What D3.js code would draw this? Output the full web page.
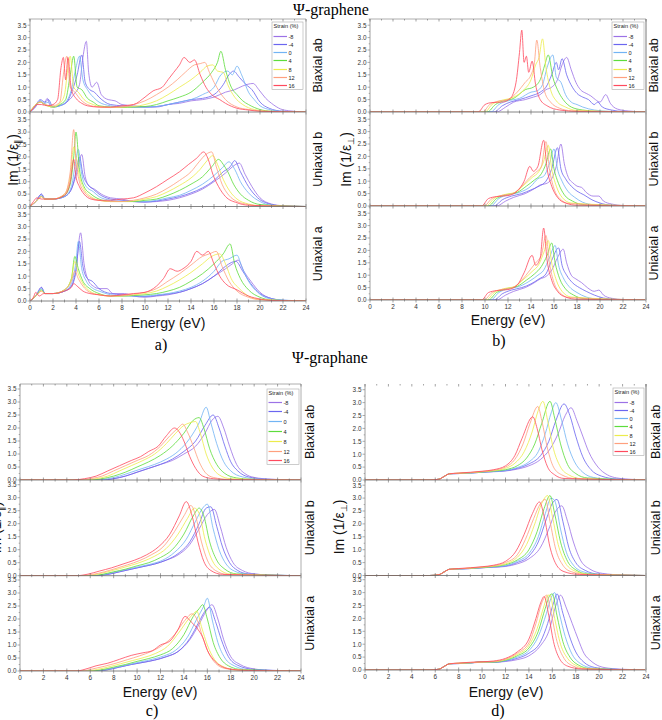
<!DOCTYPE html>
<html>
<head>
<meta charset="utf-8">
<script src="https://cdn.jsdelivr.net/npm/d3@7"></script>
<style>
body { margin: 0; background: #fff; }
svg { display: block; }
</style>
</head>
<body>
<svg width="662" height="720"></svg>
<script>
'use strict';

var strains = ['-8', '-4', '0', '4', '8', '12', '16'];
var strainColors = ['#9c72e6', '#6b66f0', '#72b4f4', '#5ddc3c', '#ecec4c', '#ffa07e', '#ff4a5e'];
var energyTicks = d3.range(0, 25, 2);
var imTicks = [0, 0.5, 1, 1.5, 2, 2.5, 3, 3.5];
var subplotNames = ['Biaxial ab', 'Uniaxial b', 'Uniaxial a'];

// each series is a flat list of energy, value pairs (-8 ... 16 %)
var grapheneParBiax = [
    [0,0, 0.4,0.15, 0.9,0.45, 1.2,0.3, 1.5,0.55, 1.8,0.2, 2.5,0.25, 3.2,0.4, 3.8,0.7, 4.3,1.1, 4.6,2.2, 4.9,2.85, 5.1,1.6, 5.4,1.0, 5.8,1.2, 6.2,0.7, 6.8,0.5, 7.4,0.45, 8,0.3, 9,0.25, 10,0.2, 11,0.2, 12,0.3, 13,0.35, 14,0.45, 15,0.5, 16,0.6, 17,0.8, 17.8,0.9, 18.5,1.05, 19.4,1.15, 19.9,0.9, 20.5,0.55, 21,0.35, 21.8,0.12, 22.5,0.05, 24,0],
    [0,0, 0.4,0.2, 0.9,0.5, 1.3,0.4, 1.6,0.5, 2,0.2, 2.6,0.25, 3.2,0.4, 3.7,0.9, 4.1,1.5, 4.5,2.3, 4.8,1.2, 5.2,0.9, 5.6,0.8, 6,0.6, 7,0.3, 8,0.25, 9,0.2, 10,0.2, 11,0.22, 12,0.3, 13,0.4, 14,0.5, 15,0.55, 16,0.7, 16.8,1.1, 17.3,1.5, 17.7,1.65, 18.2,1.4, 18.8,1.1, 19.3,0.9, 20,0.4, 20.8,0.15, 22,0.03, 24,0],
    [0,0, 0.4,0.2, 0.9,0.45, 1.3,0.35, 1.6,0.4, 2,0.2, 2.6,0.25, 3.2,0.45, 3.6,0.9, 4.0,1.8, 4.3,2.25, 4.6,1.3, 5.0,0.9, 5.5,0.6, 6,0.4, 7,0.25, 8,0.2, 9,0.2, 10,0.2, 11,0.22, 12,0.3, 13,0.4, 14,0.5, 15,0.7, 16,1.0, 16.6,1.5, 17.2,1.65, 17.6,1.5, 18.0,1.85, 18.4,1.5, 19,0.8, 19.5,0.5, 20,0.25, 21,0.08, 22,0.02, 24,0],
    [0,0, 0.4,0.25, 0.9,0.4, 1.3,0.3, 2,0.2, 2.6,0.3, 3.1,0.5, 3.5,1.5, 3.8,2.25, 4.1,1.0, 4.5,0.9, 5,0.55, 5.5,0.4, 6,0.25, 7,0.2, 8,0.18, 9,0.2, 10,0.22, 11,0.3, 12,0.45, 13,0.6, 14,0.8, 15,1.2, 15.8,1.6, 16.3,2.0, 16.6,2.45, 17,1.7, 17.5,1.0, 18,0.7, 18.5,0.45, 19,0.3, 20,0.1, 21,0.03, 24,0],
    [0,0, 0.4,0.25, 0.9,0.4, 1.3,0.3, 2,0.2, 2.6,0.35, 3.0,0.7, 3.3,1.8, 3.5,2.25, 3.8,1.0, 4.2,0.8, 4.7,0.5, 5.5,0.3, 6,0.22, 7,0.18, 8,0.2, 9,0.22, 10,0.3, 11,0.45, 12,0.7, 13,1.0, 14,1.3, 14.8,1.6, 15.4,1.85, 15.9,1.9, 16.3,1.65, 16.8,1.6, 17.2,1.1, 17.8,0.6, 18.5,0.3, 19.5,0.1, 21,0.02, 24,0],
    [0,0, 0.4,0.25, 0.9,0.4, 1.3,0.3, 2,0.25, 2.6,0.4, 2.9,1.5, 3.2,2.25, 3.5,1.0, 3.9,0.8, 4.4,0.5, 5,0.3, 6,0.2, 7,0.18, 8,0.2, 9,0.3, 10,0.45, 11,0.7, 12,1.0, 12.8,1.3, 13.5,1.6, 14.3,1.9, 14.8,1.95, 15.2,2.0, 15.6,1.6, 16,1.2, 16.5,0.8, 17,0.5, 18,0.2, 19,0.1, 20.5,0.03, 24,0],
    [0,0, 0.3,0.15, 0.6,0.3, 1,0.3, 1.5,0.25, 2,0.3, 2.4,0.5, 2.7,1.8, 2.9,2.2, 3.1,1.3, 3.3,2.2, 3.6,0.9, 4,0.55, 4.5,0.35, 5,0.25, 6,0.2, 7,0.2, 8,0.25, 9,0.3, 10,0.6, 10.7,0.85, 11.5,1.0, 12,1.3, 12.5,1.6, 13,1.9, 13.4,2.2, 13.9,2.0, 14.3,2.1, 14.8,1.5, 15.3,1.0, 15.8,0.7, 16.5,0.5, 17,0.35, 18,0.15, 19,0.08, 20,0.03, 24,0]
];

var grapheneParUniB = [
    [0,0, 0.5,0.2, 1.0,0.5, 1.3,0.3, 2,0.3, 3,0.4, 3.6,0.7, 4.1,1.4, 4.5,2.1, 4.8,1.2, 5.2,0.8, 5.6,0.7, 6.2,0.5, 7,0.35, 8,0.3, 9,0.2, 10,0.18, 11,0.2, 12,0.25, 13,0.35, 14,0.5, 15,0.7, 16,1.0, 17,1.35, 17.6,1.6, 18.2,1.75, 18.7,1.3, 19.3,0.8, 20,0.35, 21,0.1, 22,0.03, 24,0],
    [0,0, 0.5,0.2, 1.0,0.5, 1.3,0.3, 2,0.3, 3,0.4, 3.6,0.7, 4.0,1.4, 4.3,2.0, 4.6,1.3, 5,0.9, 5.5,0.7, 6,0.5, 7,0.3, 8,0.25, 9,0.2, 10,0.18, 11,0.22, 12,0.3, 13,0.4, 14,0.55, 15,0.75, 16,1.05, 16.8,1.4, 17.4,1.6, 17.8,1.85, 18.3,1.4, 19,0.8, 19.8,0.35, 21,0.08, 22,0.02, 24,0],
    [0,0, 0.5,0.2, 1.0,0.45, 1.3,0.3, 2,0.3, 3,0.4, 3.6,0.8, 3.9,1.6, 4.2,2.3, 4.5,1.3, 4.9,0.8, 5.5,0.6, 6,0.4, 7,0.25, 8,0.2, 9,0.2, 10,0.2, 11,0.25, 12,0.35, 13,0.45, 14,0.65, 15,0.9, 16,1.25, 16.7,1.55, 17.3,1.8, 17.8,1.5, 18.3,1.0, 19,0.55, 20,0.2, 21,0.05, 24,0],
    [0,0, 0.5,0.2, 1.0,0.4, 1.3,0.3, 2,0.3, 3,0.45, 3.5,0.9, 3.8,2.0, 4.0,3.0, 4.3,1.5, 4.7,0.8, 5.3,0.5, 6,0.3, 7,0.2, 8,0.2, 9,0.2, 10,0.25, 11,0.3, 12,0.45, 13,0.65, 14,0.9, 15,1.2, 15.8,1.6, 16.4,1.9, 16.8,1.7, 17.2,1.4, 17.7,0.9, 18.3,0.5, 19,0.25, 20,0.08, 24,0],
    [0,0, 0.5,0.2, 1.0,0.4, 1.3,0.3, 2,0.3, 3,0.5, 3.5,1.2, 3.8,2.4, 4.0,2.0, 4.3,1.2, 4.7,0.7, 5.3,0.4, 6,0.25, 7,0.2, 8,0.2, 9,0.22, 10,0.3, 11,0.4, 12,0.6, 13,0.85, 14,1.15, 14.8,1.5, 15.4,1.85, 15.9,2.05, 16.3,1.7, 16.8,1.1, 17.4,0.6, 18,0.3, 19,0.1, 20,0.03, 24,0],
    [0,0, 0.5,0.2, 1.0,0.4, 1.3,0.3, 2,0.3, 3,0.5, 3.5,1.4, 3.8,3.1, 4.0,1.8, 4.3,1.0, 4.7,0.6, 5.3,0.35, 6,0.25, 7,0.2, 8,0.2, 9,0.25, 10,0.35, 11,0.5, 12,0.75, 13,1.05, 14,1.4, 14.7,1.8, 15.3,2.1, 15.8,2.2, 16.2,1.6, 16.7,0.9, 17.3,0.45, 18,0.2, 19,0.08, 20,0.02, 24,0],
    [0,0, 0.3,0.2, 0.6,0.35, 1,0.3, 1.5,0.3, 2,0.3, 3,0.45, 3.5,1.0, 3.8,1.9, 4.0,1.2, 4.3,0.8, 4.7,0.5, 5.3,0.3, 6,0.25, 7,0.25, 8,0.3, 9,0.35, 10,0.55, 11,0.8, 12,1.1, 13,1.4, 13.8,1.7, 14.5,1.95, 15.1,2.2, 15.5,1.9, 15.9,1.3, 16.4,0.8, 17,0.4, 18,0.15, 19,0.05, 24,0]
];

var grapheneParUniA = [
    [0,0, 0.5,0.2, 1.0,0.55, 1.3,0.3, 2,0.3, 3,0.4, 3.6,0.6, 4.0,1.3, 4.4,2.75, 4.7,1.5, 5.1,0.8, 5.5,0.6, 6,0.5, 6.7,0.5, 7.2,0.3, 8.2,0.3, 9,0.2, 10,0.15, 11,0.2, 12,0.25, 13,0.35, 14,0.5, 15,0.7, 16,1.0, 17,1.3, 17.6,1.5, 18.1,1.65, 18.6,1.2, 19.2,0.8, 20,0.35, 21,0.1, 22,0.03, 24,0],
    [0,0, 0.5,0.2, 1.0,0.55, 1.3,0.3, 2,0.3, 3,0.4, 3.6,0.6, 4.0,1.2, 4.3,2.4, 4.6,1.4, 5,0.9, 5.4,0.8, 6,0.5, 7,0.3, 8,0.25, 9,0.2, 10,0.18, 11,0.22, 12,0.28, 13,0.35, 14,0.5, 15,0.7, 16,1.0, 17,1.4, 17.5,1.55, 17.9,1.6, 18.5,1.2, 19.2,0.7, 20,0.3, 21,0.1, 22,0.02, 24,0],
    [0,0, 0.5,0.2, 1.0,0.5, 1.3,0.3, 2,0.3, 3,0.4, 3.6,0.7, 4.0,1.6, 4.2,2.4, 4.5,1.3, 4.9,0.8, 5.5,0.5, 6,0.4, 7,0.25, 8,0.2, 9,0.2, 10,0.2, 11,0.25, 12,0.3, 13,0.4, 14,0.55, 15,0.8, 16,1.2, 16.7,1.6, 17.3,1.7, 18.0,1.85, 18.4,1.4, 19,0.8, 19.8,0.35, 21,0.08, 24,0],
    [0,0, 0.5,0.2, 1.0,0.45, 1.3,0.3, 2,0.3, 3,0.45, 3.6,0.9, 3.9,1.8, 4.2,1.3, 4.6,0.8, 5.2,0.5, 6,0.3, 7,0.2, 8,0.2, 9,0.22, 10,0.25, 11,0.3, 12,0.4, 13,0.55, 14,0.8, 15,1.1, 16,1.5, 16.8,1.9, 17.4,2.3, 17.8,1.5, 18.3,0.9, 19,0.45, 20,0.15, 21,0.04, 24,0],
    [0,0, 0.5,0.2, 1.0,0.4, 1.3,0.3, 2,0.3, 3,0.45, 3.6,0.9, 3.9,1.6, 4.2,1.1, 4.6,0.7, 5.2,0.4, 6,0.25, 7,0.2, 8,0.2, 9,0.25, 10,0.3, 11,0.4, 12,0.6, 13,0.85, 14,1.15, 15,1.5, 15.8,1.8, 16.5,1.9, 17,1.5, 17.5,0.9, 18.2,0.5, 19,0.2, 20,0.06, 24,0],
    [0,0, 0.5,0.2, 1.0,0.4, 1.3,0.3, 2,0.3, 3,0.45, 3.6,0.8, 3.9,1.2, 4.2,0.9, 4.6,0.6, 5.2,0.35, 6,0.25, 7,0.2, 8,0.22, 9,0.28, 10,0.35, 11,0.5, 12,0.8, 13,1.1, 14,1.45, 15,1.8, 15.6,1.9, 16.2,2.0, 16.7,1.4, 17.3,0.8, 18,0.4, 19,0.15, 20,0.05, 24,0],
    [0,0, 0.3,0.15, 0.5,0.35, 0.8,0.2, 1.2,0.3, 2,0.3, 3,0.4, 3.6,0.55, 3.8,0.7, 4.1,0.6, 4.6,0.4, 5.2,0.3, 6,0.25, 7,0.2, 8,0.25, 9,0.3, 10,0.35, 11,0.6, 11.6,0.9, 12.2,1.3, 12.8,1.2, 13.3,1.3, 14,1.6, 14.5,2.0, 15,1.85, 15.5,2.0, 16,1.5, 16.5,1.0, 17,0.7, 18,0.45, 19,0.2, 20,0.08, 21,0.02, 24,0]
];

var grapheneOrtBiax = [
    [0,0, 11,0, 11.8,0.2, 12.5,0.4, 13.5,0.5, 14.2,0.6, 14.8,0.7, 15.3,0.9, 15.8,1.0, 16.3,1.3, 16.7,1.9, 17.1,2.2, 17.5,1.7, 17.9,1.2, 18.3,0.9, 18.8,0.75, 19.2,0.65, 19.6,0.5, 20.0,0.4, 20.5,0.7, 20.9,0.35, 21.5,0.12, 22.5,0.04, 24,0],
    [0,0, 10.8,0, 11.5,0.25, 12.2,0.4, 13,0.5, 14,0.65, 14.8,0.8, 15.3,1.0, 15.8,1.5, 16.2,2.0, 16.4,1.7, 16.7,2.15, 17.1,1.5, 17.6,1.0, 18,0.75, 18.5,0.6, 19,0.5, 19.5,0.3, 19.8,0.4, 20.2,0.2, 21,0.08, 22,0.02, 24,0],
    [0,0, 10.5,0, 11.2,0.3, 12,0.45, 13,0.55, 14,0.8, 14.5,0.85, 15,1.1, 15.4,1.8, 15.9,2.3, 16.2,1.4, 16.6,1.2, 17,0.7, 17.5,0.4, 18,0.3, 18.5,0.2, 19.5,0.08, 21,0.02, 24,0],
    [0,0, 10.2,0, 10.9,0.3, 11.6,0.45, 12.5,0.55, 13.5,0.9, 14.2,1.0, 14.8,1.3, 15.2,1.9, 15.5,2.3, 15.9,1.4, 16.3,0.9, 16.8,0.5, 17.5,0.2, 18.5,0.08, 20,0.02, 24,0],
    [0,0, 10,0, 10.6,0.3, 11.3,0.45, 12.5,0.6, 13.4,0.9, 14,1.3, 14.4,1.9, 14.7,2.2, 15.0,2.95, 15.3,1.8, 15.7,0.9, 16.2,0.45, 17,0.2, 18,0.06, 24,0],
    [0,0, 9.8,0, 10.4,0.3, 11,0.42, 12,0.5, 12.8,0.8, 13.5,1.2, 14.0,1.5, 14.3,2.0, 14.5,2.9, 14.8,1.8, 15.2,0.8, 15.7,0.4, 16.5,0.15, 17.5,0.05, 24,0],
    [0,0, 9.4,0, 10,0.3, 10.6,0.38, 11.5,0.4, 12.2,0.55, 12.7,1.2, 13.0,2.4, 13.2,3.3, 13.4,2.0, 13.6,2.25, 13.8,1.6, 14.1,2.05, 14.4,1.1, 14.8,0.5, 15.4,0.25, 16.5,0.08, 18,0.02, 24,0]
];

var grapheneOrtUniB = [
    [0,0, 11,0, 11.8,0.2, 12.5,0.35, 13.5,0.5, 14.3,0.7, 14.8,0.85, 15.3,0.9, 15.8,1.1, 16.2,1.6, 16.6,2.5, 16.9,1.7, 17.3,1.1, 17.6,0.95, 18,0.8, 18.4,0.75, 18.8,0.55, 19.4,0.4, 19.9,0.4, 20.3,0.2, 21,0.08, 22,0.02, 24,0],
    [0,0, 10.8,0, 11.5,0.25, 12.3,0.4, 13.2,0.5, 14,0.65, 14.7,0.8, 15.3,1.0, 15.8,1.5, 16.3,2.35, 16.6,1.5, 17,1.1, 17.5,0.8, 18,0.6, 18.6,0.45, 19.3,0.25, 20,0.12, 21,0.03, 24,0],
    [0,0, 10.5,0, 11.2,0.3, 12,0.45, 13,0.55, 14,0.8, 14.6,1.1, 15.1,1.2, 15.6,1.7, 16.0,2.3, 16.3,1.5, 16.7,1.0, 17.2,0.6, 17.8,0.35, 18.5,0.15, 19.5,0.05, 24,0],
    [0,0, 10.3,0, 11,0.3, 11.8,0.45, 12.8,0.55, 13.6,0.8, 14.3,1.05, 14.9,1.3, 15.3,1.7, 15.7,2.3, 16,1.5, 16.4,0.9, 16.9,0.45, 17.6,0.2, 18.5,0.06, 24,0],
    [0,0, 10.1,0, 10.8,0.3, 11.6,0.45, 12.6,0.55, 13.4,0.85, 14.1,1.15, 14.7,1.4, 15.1,1.8, 15.5,2.45, 15.8,1.5, 16.2,0.8, 16.7,0.35, 17.5,0.12, 24,0],
    [0,0, 9.9,0, 10.6,0.3, 11.4,0.42, 12.4,0.5, 13.2,0.8, 13.9,1.15, 14.4,1.35, 14.9,1.6, 15.3,2.6, 15.6,1.5, 16,0.7, 16.5,0.3, 17.3,0.1, 24,0],
    [0,0, 9.7,0, 10.3,0.3, 11,0.38, 12,0.42, 12.8,0.6, 13.4,1.0, 13.9,1.6, 14.2,1.4, 14.6,1.6, 15.1,2.65, 15.4,1.5, 15.8,0.8, 16.3,0.35, 17,0.12, 18,0.03, 24,0]
];

var grapheneOrtUniA = [
    [0,0, 11,0, 11.8,0.2, 12.5,0.35, 13.5,0.5, 14.3,0.7, 14.8,0.85, 15.3,0.95, 15.8,1.2, 16.3,1.7, 16.8,2.05, 17.1,1.5, 17.5,1.0, 17.9,0.85, 18.4,0.7, 18.9,0.5, 19.5,0.35, 19.9,0.4, 20.3,0.2, 21,0.07, 22,0.02, 24,0],
    [0,0, 10.8,0, 11.5,0.25, 12.3,0.4, 13.2,0.5, 14,0.65, 14.7,0.85, 15.3,1.05, 15.8,1.6, 16.4,2.1, 16.7,1.4, 17.1,1.0, 17.6,0.7, 18.2,0.5, 18.8,0.35, 19.5,0.2, 20.3,0.08, 21.5,0.02, 24,0],
    [0,0, 10.5,0, 11.2,0.3, 12,0.45, 13,0.55, 14,0.8, 14.6,1.0, 15.1,1.2, 15.6,1.7, 16.1,2.2, 16.4,1.4, 16.8,0.9, 17.3,0.55, 18,0.3, 18.8,0.12, 20,0.03, 24,0],
    [0,0, 10.3,0, 11,0.3, 11.8,0.45, 12.8,0.55, 13.6,0.8, 14.3,1.05, 14.9,1.35, 15.4,1.8, 15.8,2.3, 16.1,1.5, 16.5,0.85, 17,0.45, 17.7,0.2, 18.6,0.06, 24,0],
    [0,0, 10.1,0, 10.8,0.3, 11.6,0.45, 12.6,0.55, 13.4,0.85, 14.1,1.15, 14.7,1.45, 15.1,1.9, 15.5,2.4, 15.8,1.5, 16.2,0.8, 16.7,0.35, 17.5,0.12, 24,0],
    [0,0, 9.9,0, 10.6,0.3, 11.4,0.42, 12.4,0.5, 13.2,0.8, 13.9,1.2, 14.4,1.5, 14.9,1.8, 15.3,2.6, 15.6,1.5, 16,0.7, 16.5,0.3, 17.3,0.1, 24,0],
    [0,0, 9.7,0, 10.3,0.3, 11,0.38, 12,0.42, 12.8,0.6, 13.4,1.1, 14.1,1.8, 14.4,1.4, 14.8,1.7, 15.1,2.9, 15.4,1.6, 15.8,0.8, 16.3,0.35, 17,0.12, 18,0.03, 24,0]
];

var graphaneParBiax = [
    [0,0, 7,0, 8,0.05, 9,0.15, 10,0.3, 11,0.45, 12,0.6, 13,0.75, 14,1.0, 15,1.3, 15.8,1.8, 16.4,2.3, 16.9,2.45, 17.4,2.0, 17.9,1.3, 18.5,0.6, 19.2,0.25, 20,0.1, 21.5,0.03, 24,0],
    [0,0, 7,0, 8,0.05, 9,0.15, 10,0.3, 11,0.45, 12,0.6, 13,0.8, 14,1.1, 15,1.5, 15.8,2.1, 16.5,2.5, 17,2.0, 17.5,1.3, 18,0.7, 18.6,0.35, 19.5,0.12, 21,0.03, 24,0],
    [0,0, 6.5,0, 7.5,0.05, 8.5,0.15, 9.5,0.3, 10.5,0.45, 11.5,0.6, 12.5,0.8, 13.5,1.1, 14.5,1.6, 15.3,2.2, 15.9,2.8, 16.3,2.2, 16.8,1.4, 17.4,0.7, 18,0.35, 19,0.12, 20.5,0.03, 24,0],
    [0,0, 6,0, 7,0.05, 8,0.15, 9,0.3, 10,0.5, 11,0.7, 12,0.95, 13,1.3, 14,1.8, 14.8,2.3, 15.3,2.4, 15.7,2.0, 16.2,1.2, 16.8,0.6, 17.5,0.25, 18.5,0.08, 20,0.02, 24,0],
    [0,0, 5.5,0, 6.5,0.05, 7.5,0.15, 8.5,0.35, 9.5,0.55, 10.5,0.75, 11.5,1.0, 12.5,1.4, 13.3,1.8, 14,2.1, 14.5,2.2, 15,2.25, 15.4,1.8, 15.9,1.0, 16.4,0.5, 17,0.2, 18,0.05, 24,0],
    [0,0, 5,0, 6,0.05, 7,0.15, 8,0.35, 9,0.55, 10,0.75, 11,0.95, 12,1.3, 12.8,1.7, 13.5,2.0, 13.9,2.15, 14.3,1.85, 14.8,1.3, 15.3,0.7, 15.8,0.3, 16.5,0.1, 18,0.02, 24,0],
    [0,0, 4.5,0, 5.5,0.05, 6.5,0.15, 7.5,0.35, 8.5,0.55, 9.5,0.75, 10.3,0.9, 11,1.1, 11.8,1.3, 12.5,1.7, 13.2,2.0, 13.6,1.85, 14,1.5, 14.5,0.9, 15,0.45, 15.6,0.15, 16.5,0.05, 18,0.01, 24,0]
];

var graphaneParUniB = [
    [0,0, 6.5,0, 7.5,0.05, 8.5,0.15, 9.5,0.25, 10.5,0.35, 11.5,0.45, 12.5,0.6, 13.5,0.8, 14.5,1.2, 15.3,1.8, 16,2.35, 16.6,2.55, 17.1,1.9, 17.6,1.1, 18.2,0.5, 19,0.2, 20,0.07, 21.5,0.02, 24,0],
    [0,0, 6.5,0, 7.5,0.05, 8.5,0.15, 9.5,0.25, 10.5,0.35, 11.5,0.45, 12.5,0.6, 13.5,0.85, 14.5,1.3, 15.3,2.0, 15.9,2.6, 16.3,2.65, 16.8,1.9, 17.3,1.1, 17.9,0.5, 18.6,0.2, 19.5,0.07, 24,0],
    [0,0, 6.2,0, 7.2,0.05, 8.2,0.15, 9.2,0.25, 10.2,0.35, 11.2,0.45, 12.2,0.6, 13.2,0.9, 14.2,1.4, 15,2.1, 15.6,2.6, 16,2.75, 16.5,1.8, 17,1.0, 17.6,0.45, 18.3,0.18, 19.5,0.05, 24,0],
    [0,0, 6,0, 7,0.05, 8,0.15, 9,0.25, 10,0.38, 11,0.5, 12,0.7, 13,1.0, 14,1.6, 14.8,2.3, 15.3,2.6, 15.7,2.3, 16.2,1.3, 16.8,0.6, 17.5,0.25, 18.5,0.07, 24,0],
    [0,0, 5.5,0, 6.5,0.05, 7.5,0.15, 8.5,0.27, 9.5,0.4, 10.5,0.55, 11.5,0.75, 12.5,1.05, 13.5,1.6, 14.3,2.2, 14.9,2.6, 15.3,2.4, 15.8,1.4, 16.4,0.6, 17,0.25, 18,0.06, 24,0],
    [0,0, 5.2,0, 6.2,0.05, 7.2,0.15, 8.2,0.28, 9.2,0.42, 10.2,0.58, 11.2,0.8, 12.2,1.1, 13.2,1.7, 14,2.3, 14.6,2.7, 15,2.3, 15.5,1.3, 16,0.6, 16.7,0.2, 17.7,0.05, 24,0],
    [0,0, 4.8,0, 5.8,0.06, 6.8,0.18, 7.8,0.3, 8.8,0.45, 9.8,0.6, 10.8,0.8, 11.8,1.1, 12.8,1.6, 13.6,2.3, 14.2,2.85, 14.7,2.3, 15.2,1.3, 15.7,0.55, 16.3,0.2, 17.3,0.05, 24,0]
];

var graphaneParUniA = [
    [0,0, 6.5,0, 7.5,0.05, 8.5,0.15, 9.5,0.25, 10.5,0.33, 11.5,0.42, 12.5,0.55, 13.5,0.75, 14.5,1.2, 15.3,1.8, 15.9,2.3, 16.4,2.55, 16.9,2.0, 17.4,1.2, 18,0.55, 18.8,0.25, 20,0.08, 21.5,0.02, 24,0],
    [0,0, 6.5,0, 7.5,0.05, 8.5,0.15, 9.5,0.25, 10.5,0.33, 11.5,0.42, 12.5,0.55, 13.5,0.75, 14.5,1.25, 15.3,1.9, 15.8,2.3, 16.2,2.45, 16.7,1.9, 17.2,1.2, 17.8,0.55, 18.6,0.22, 20,0.06, 24,0],
    [0,0, 6.3,0, 7.3,0.05, 8.3,0.15, 9.3,0.25, 10.3,0.35, 11.3,0.45, 12.3,0.58, 13.3,0.8, 14.3,1.3, 15.1,2.0, 15.7,2.5, 16,2.8, 16.4,2.0, 16.9,1.1, 17.5,0.5, 18.3,0.2, 19.5,0.05, 24,0],
    [0,0, 6,0, 7,0.05, 8,0.15, 9,0.25, 10,0.37, 11,0.48, 12,0.62, 13,0.85, 14,1.4, 14.8,2.1, 15.3,2.4, 15.6,2.55, 16,2.0, 16.5,1.1, 17.1,0.5, 17.8,0.2, 19,0.05, 24,0],
    [0,0, 5.6,0, 6.6,0.06, 7.6,0.16, 8.6,0.28, 9.6,0.4, 10.6,0.52, 11.6,0.68, 12.6,0.95, 13.6,1.5, 14.4,2.0, 14.8,2.2, 15.1,2.3, 15.5,1.7, 16,1.0, 16.6,0.45, 17.3,0.18, 18.5,0.04, 24,0],
    [0,0, 5.2,0, 6.2,0.08, 7.2,0.18, 8.2,0.3, 9.2,0.44, 10.2,0.58, 11.2,0.75, 12.2,1.0, 13.2,1.4, 14,1.9, 14.7,2.2, 15.1,2.0, 15.6,1.3, 16.1,0.7, 16.7,0.3, 17.5,0.1, 18.8,0.03, 24,0],
    [0,0, 4.8,0, 5.8,0.1, 6.5,0.2, 7.5,0.3, 8.5,0.45, 9.5,0.6, 10.5,0.7, 11.3,0.78, 12,1.0, 12.8,1.15, 13.5,1.6, 14.1,2.1, 14.6,1.9, 15.2,1.6, 15.6,1.3, 16,0.8, 16.5,0.45, 17.2,0.18, 18.2,0.06, 19.5,0.02, 24,0]
];

var graphaneOrtBiax = [
    [0,0, 5.5,0, 6.3,0.03, 6.8,0.15, 7.2,0.24, 8,0.25, 9,0.27, 10,0.3, 11,0.32, 12,0.35, 13,0.42, 14,0.55, 15,0.8, 15.8,1.2, 16.5,1.8, 17.1,2.5, 17.6,2.8, 18.1,2.3, 18.6,1.7, 19.1,1.1, 19.9,0.5, 20.7,0.2, 21.5,0.08, 23,0.02, 24,0],
    [0,0, 5.5,0, 6.3,0.03, 6.8,0.15, 7.2,0.24, 8,0.25, 9,0.27, 10,0.3, 11,0.33, 12,0.36, 13,0.45, 14,0.62, 15,0.95, 15.7,1.5, 16.3,2.3, 17,2.95, 17.5,2.5, 18,1.7, 18.6,0.9, 19.3,0.4, 20.2,0.15, 21.5,0.04, 24,0],
    [0,0, 5.5,0, 6.3,0.03, 6.8,0.15, 7.2,0.24, 8,0.25, 9,0.27, 10,0.3, 11,0.33, 12,0.37, 13,0.48, 14,0.7, 14.8,1.1, 15.4,1.8, 15.9,2.6, 16.3,3.0, 16.8,2.3, 17.3,1.4, 17.9,0.7, 18.6,0.3, 19.5,0.1, 21,0.03, 24,0],
    [0,0, 5.5,0, 6.3,0.03, 6.8,0.15, 7.2,0.24, 8,0.26, 9,0.28, 10,0.31, 11,0.35, 12,0.4, 13,0.55, 13.8,0.85, 14.5,1.4, 15.1,2.2, 15.8,3.05, 16.2,2.4, 16.7,1.4, 17.3,0.6, 18,0.25, 19,0.08, 24,0],
    [0,0, 5.5,0, 6.3,0.03, 6.8,0.15, 7.2,0.24, 8,0.26, 9,0.28, 10,0.32, 11,0.36, 12,0.45, 12.8,0.65, 13.6,1.1, 14.3,1.9, 14.8,2.7, 15.2,3.05, 15.6,2.3, 16.1,1.2, 16.7,0.5, 17.4,0.2, 18.5,0.05, 24,0],
    [0,0, 5.5,0, 6.3,0.03, 6.8,0.15, 7.2,0.24, 8,0.26, 9,0.29, 10,0.33, 11,0.38, 12,0.5, 12.8,0.8, 13.5,1.4, 14.1,2.2, 14.76,2.85, 15.1,2.3, 15.6,1.2, 16.1,0.5, 16.8,0.2, 18,0.05, 24,0],
    [0,0, 5.5,0, 6.3,0.03, 6.8,0.15, 7.2,0.24, 8,0.27, 9,0.3, 10,0.34, 11,0.4, 12,0.55, 12.8,0.95, 13.4,1.6, 14.33,2.45, 14.7,2.0, 15.1,1.2, 15.6,0.5, 16.2,0.2, 17,0.06, 24,0]
];

var graphaneOrtUniB = [
    [0,0, 5.5,0, 6.3,0.03, 6.8,0.15, 7.2,0.24, 8,0.25, 9,0.27, 10,0.3, 11,0.32, 12,0.35, 13,0.45, 14,0.65, 15,1.1, 15.7,1.8, 16.3,2.5, 16.8,2.7, 17.3,2.1, 17.8,1.3, 18.4,0.6, 19.2,0.25, 20.3,0.08, 22,0.02, 24,0],
    [0,0, 5.5,0, 6.3,0.03, 6.8,0.15, 7.2,0.24, 8,0.25, 9,0.27, 10,0.3, 11,0.33, 12,0.37, 13,0.5, 14,0.75, 14.8,1.3, 15.5,2.2, 16,2.8, 16.4,2.95, 16.9,2.1, 17.4,1.1, 18,0.5, 18.8,0.2, 20,0.05, 24,0],
    [0,0, 5.5,0, 6.3,0.03, 6.8,0.15, 7.2,0.24, 8,0.25, 9,0.27, 10,0.3, 11,0.33, 12,0.38, 13,0.55, 14,0.85, 14.8,1.5, 15.4,2.4, 15.9,3.0, 16.2,2.9, 16.7,1.8, 17.2,0.9, 17.8,0.4, 18.6,0.15, 20,0.04, 24,0],
    [0,0, 5.5,0, 6.3,0.03, 6.8,0.15, 7.2,0.24, 8,0.26, 9,0.28, 10,0.31, 11,0.35, 12,0.42, 13,0.6, 14,1.0, 14.7,1.7, 15.3,2.6, 15.8,3.1, 16.2,2.4, 16.7,1.3, 17.3,0.55, 18,0.22, 19,0.06, 24,0],
    [0,0, 5.5,0, 6.3,0.03, 6.8,0.15, 7.2,0.24, 8,0.26, 9,0.28, 10,0.32, 11,0.36, 12,0.45, 13,0.7, 13.8,1.2, 14.5,2.0, 15.1,2.8, 15.6,3.1, 16,2.3, 16.5,1.2, 17.1,0.5, 17.8,0.2, 19,0.05, 24,0],
    [0,0, 5.5,0, 6.3,0.03, 6.8,0.15, 7.2,0.24, 8,0.26, 9,0.29, 10,0.33, 11,0.38, 12,0.5, 13,0.8, 13.7,1.4, 14.4,2.2, 15,2.8, 15.4,2.95, 15.8,2.1, 16.3,1.0, 16.9,0.4, 17.6,0.15, 19,0.04, 24,0],
    [0,0, 5.5,0, 6.3,0.03, 6.8,0.15, 7.2,0.24, 8,0.27, 9,0.3, 10,0.34, 11,0.4, 12,0.55, 12.9,0.95, 13.6,1.6, 14.3,2.4, 14.9,2.85, 15.3,2.3, 15.8,1.1, 16.3,0.45, 17,0.15, 18.3,0.04, 24,0]
];

var graphaneOrtUniA = [
    [0,0, 5.5,0, 6.3,0.03, 6.8,0.15, 7.2,0.24, 8,0.25, 9,0.27, 10,0.3, 11,0.3, 12,0.33, 13,0.4, 14,0.55, 15,0.95, 15.7,1.5, 16.3,2.5, 16.7,2.9, 17.2,2.4, 17.7,1.8, 18.2,1.2, 18.7,0.65, 19.3,0.35, 20,0.15, 21,0.06, 22.5,0.02, 24,0],
    [0,0, 5.5,0, 6.3,0.03, 6.8,0.15, 7.2,0.24, 8,0.25, 9,0.27, 10,0.33, 11,0.3, 12,0.35, 13,0.45, 14,0.65, 15,1.1, 15.6,1.8, 16.1,2.6, 16.4,2.95, 16.9,2.2, 17.4,1.4, 18,0.7, 18.7,0.3, 19.6,0.1, 21,0.03, 24,0],
    [0,0, 5.5,0, 6.3,0.03, 6.8,0.15, 7.2,0.24, 8,0.25, 9,0.27, 10,0.32, 11,0.3, 12,0.36, 13,0.5, 14,0.75, 14.8,1.3, 15.5,2.2, 15.9,2.8, 16.2,3.0, 16.6,2.2, 17.1,1.3, 17.7,0.6, 18.4,0.25, 19.5,0.07, 24,0],
    [0,0, 5.5,0, 6.3,0.03, 6.8,0.15, 7.2,0.24, 8,0.26, 9,0.28, 10,0.31, 11,0.31, 12,0.38, 13,0.55, 14,0.85, 14.8,1.5, 15.4,2.4, 15.8,2.9, 16.0,2.95, 16.4,2.1, 16.9,1.1, 17.5,0.5, 18.2,0.2, 19.3,0.05, 24,0],
    [0,0, 5.5,0, 6.3,0.03, 6.8,0.15, 7.2,0.24, 8,0.26, 9,0.28, 10,0.31, 11,0.32, 12,0.4, 13,0.6, 14,0.95, 14.7,1.6, 15.3,2.5, 15.6,2.9, 15.8,2.9, 16.2,2.0, 16.7,1.0, 17.3,0.45, 18,0.18, 19,0.05, 24,0],
    [0,0, 5.5,0, 6.3,0.03, 6.8,0.15, 7.2,0.24, 8,0.26, 9,0.29, 10,0.31, 11,0.33, 12,0.42, 13,0.65, 14,1.05, 14.6,1.8, 15.1,2.6, 15.5,2.9, 15.9,2.2, 16.4,1.1, 17,0.45, 17.7,0.17, 18.8,0.04, 24,0],
    [0,0, 5.5,0, 6.3,0.03, 6.8,0.15, 7.2,0.24, 8,0.27, 9,0.3, 10,0.32, 11,0.35, 12,0.45, 13,0.7, 14,1.2, 14.6,2.0, 15.0,2.6, 15.3,2.85, 15.7,2.1, 16.1,1.1, 16.6,0.45, 17.3,0.15, 18.5,0.04, 24,0]
];

var panels = [
    { data: [grapheneParBiax, grapheneParUniB, grapheneParUniA], left: 30, right: 306, top: 19,
      bottoms: [112, 206.5, 301], unit: 24.8, sub: '\u2225', yLabelX: 13, sideX: 318,
      energyX: 168, energyY: 328, letter: 'a)', letterX: 161, letterY: 350,
      legend: { x: 272, y: 22, w: 31, first: 35.5, step: 8.3 }, topFrame: true },
    { data: [grapheneOrtBiax, grapheneOrtUniB, grapheneOrtUniA], left: 370, right: 646, top: 19,
      bottoms: [112, 206, 300], unit: 24.8, sub: '\u22a5', yLabelX: 346, sideX: 654,
      energyX: 508, energyY: 325, letter: 'b)', letterX: 499, letterY: 346,
      legend: { x: 612, y: 22, w: 32, first: 35.5, step: 8.3 }, topFrame: true },
    { data: [graphaneParBiax, graphaneParUniB, graphaneParUniA], left: 20, right: 301, top: 384,
      bottoms: [480, 575.7, 671], unit: 26, sub: '\u2225', yLabelX: -4, sideX: 310,
      energyX: 160, energyY: 697, letter: 'c)', letterX: 152, letterY: 716,
      legend: { x: 267, y: 389, w: 32, first: 401.5, step: 9.8 }, topFrame: true },
    { data: [graphaneOrtBiax, graphaneOrtUniB, graphaneOrtUniA], left: 365, right: 646, top: 384,
      bottoms: [480, 575.5, 670], unit: 25.8, sub: '\u22a5', yLabelX: 339, sideX: 656,
      energyX: 506, energyY: 697, letter: 'd)', letterX: 498, letterY: 716,
      legend: { x: 613, y: 388, w: 31, first: 401.5, step: 8.3 }, topFrame: false }
];

var svg = d3.select('svg');
var sansFont = '"Liberation Sans", Arial, sans-serif';
var serifFont = '"Liberation Serif", "Times New Roman", serif';

svg.append('text')
    .attr('x', 331).attr('y', 15)
    .attr('text-anchor', 'middle')
    .attr('font-family', serifFont).attr('font-size', 16)
    .text('\u03a8-graphene');
svg.append('text')
    .attr('x', 330).attr('y', 363)
    .attr('text-anchor', 'middle')
    .attr('font-family', serifFont).attr('font-size', 16)
    .text('\u03a8-graphane');

function toPoints (flat) {
    var pts = [], i;
    for (i = 0; i < flat.length; i += 2) {
        pts.push([flat[i], flat[i + 1]]);
    }
    return pts;
}

panels.forEach(function (p, pi) {
    var g = svg.append('g');
    var x = d3.scaleLinear().domain([0, 24]).range([p.left, p.right]);
    var minorX = d3.range(0, 25, 1);
    var minorY = d3.range(0, 3.76, 0.25);

    p.data.forEach(function (series, si) {
        var bottom = p.bottoms[si];
        var subTop = si === 0 ? p.top : p.bottoms[si - 1];
        var y = d3.scaleLinear().domain([0, 1]).range([bottom, bottom - p.unit]);
        var clipId = 'clip' + pi + '_' + si;

        g.append('clipPath').attr('id', clipId)
            .append('rect')
            .attr('x', p.left).attr('y', subTop)
            .attr('width', p.right - p.left).attr('height', bottom - subTop);

        var line = d3.line()
            .x(function (d) { return x(d[0]); })
            .y(function (d) { return y(d[1]); })
            .curve(d3.curveMonotoneX);

        g.append('g').attr('clip-path', 'url(#' + clipId + ')')
            .selectAll('path')
            .data(series)
            .enter()
            .append('path')
            .attr('d', function (d) { return line(toPoints(d)); })
            .attr('fill', 'none')
            .attr('stroke', function (d, i) { return strainColors[i]; })
            .attr('stroke-width', 0.9)
            .attr('stroke-opacity', 0.9);

        // y ticks, outward on the left
        var yTicks = g.append('g');
        yTicks.selectAll('line')
            .data(minorY.filter(function (v) { return y(v) >= subTop - 0.5; }))
            .enter()
            .append('line')
            .attr('x1', function (v) { return p.left - (Math.abs(v * 2 - Math.round(v * 2)) < 1e-6 ? 2.5 : 1.3); })
            .attr('x2', p.left)
            .attr('y1', function (v) { return y(v); })
            .attr('y2', function (v) { return y(v); })
            .attr('stroke', '#777').attr('stroke-width', 0.6);
        yTicks.selectAll('text')
            .data(imTicks)
            .enter()
            .append('text')
            .attr('x', p.left - 3.5)
            .attr('y', function (v) { return y(v) + 2.3; })
            .attr('text-anchor', 'end')
            .attr('font-family', sansFont).attr('font-size', 6.4)
            .attr('fill', '#333')
            .text(function (v) { return v.toFixed(1); });

        // x ticks on the zero line of every subplot
        g.append('g').selectAll('line')
            .data(minorX)
            .enter()
            .append('line')
            .attr('x1', function (v) { return x(v); })
            .attr('x2', function (v) { return x(v); })
            .attr('y1', function (v) { return bottom - (v % 2 === 0 ? 2.5 : 1.5); })
            .attr('y2', function (v) { return bottom + (v % 2 === 0 ? 2.5 : 1.5); })
            .attr('stroke', '#666').attr('stroke-width', 0.6);

        g.append('line')
            .attr('x1', p.left).attr('x2', p.right)
            .attr('y1', bottom).attr('y2', bottom)
            .attr('stroke', '#666').attr('stroke-width', 0.8);

        g.append('text')
            .attr('transform', 'translate(' + p.sideX + ',' + ((subTop + bottom) / 2) + ') rotate(-90)')
            .attr('text-anchor', 'middle')
            .attr('dy', '0.35em')
            .attr('font-family', sansFont).attr('font-size', 12.5)
            .attr('fill', '#111')
            .text(subplotNames[si]);
    });

    var lastBottom = p.bottoms[2];

    // frame
    g.append('line')
        .attr('x1', p.left).attr('x2', p.left)
        .attr('y1', p.top).attr('y2', lastBottom)
        .attr('stroke', '#888').attr('stroke-width', 0.8);
    g.append('line')
        .attr('x1', p.right).attr('x2', p.right)
        .attr('y1', p.top).attr('y2', lastBottom)
        .attr('stroke', pi % 2 === 1 ? '#aaa' : '#999')
        .attr('stroke-width', pi % 2 === 1 ? 1.6 : 0.8);
    if (p.topFrame) {
        g.append('line')
            .attr('x1', p.left).attr('x2', p.right)
            .attr('y1', p.top).attr('y2', p.top)
            .attr('stroke', '#999').attr('stroke-width', 0.8);
    }
    g.append('g').selectAll('line')
        .data(d3.range(0, 25, 1))
        .enter()
        .append('line')
        .attr('x1', function (v) { return x(v); })
        .attr('x2', function (v) { return x(v); })
        .attr('y1', p.top)
        .attr('y2', function (v) { return p.top + (v % 2 === 0 ? 2.5 : 1.5); })
        .attr('stroke', '#666').attr('stroke-width', 0.6);

    // energy tick labels
    g.append('g').selectAll('text')
        .data(energyTicks)
        .enter()
        .append('text')
        .attr('x', function (v) { return x(v); })
        .attr('y', lastBottom + 8.5)
        .attr('text-anchor', 'middle')
        .attr('font-family', sansFont).attr('font-size', 6.4)
        .attr('fill', '#333')
        .text(function (v) { return v; });

    g.append('text')
        .attr('x', p.energyX).attr('y', p.energyY)
        .attr('text-anchor', 'middle')
        .attr('font-family', sansFont).attr('font-size', 14)
        .attr('fill', '#111')
        .text('Energy (eV)');

    g.append('text')
        .attr('x', p.letterX).attr('y', p.letterY)
        .attr('text-anchor', 'middle')
        .attr('font-family', serifFont).attr('font-size', 16)
        .text(p.letter);

    var yl = g.append('text')
        .attr('transform', 'translate(' + p.yLabelX + ',' + ((p.top + lastBottom) / 2) + ') rotate(-90)')
        .attr('text-anchor', 'middle')
        .attr('dy', '0.35em')
        .attr('font-family', sansFont).attr('font-size', 14)
        .attr('fill', '#111');
    yl.append('tspan').text('Im (1/\u03b5');
    yl.append('tspan').attr('font-size', 9).attr('dy', 3).text(p.sub);
    yl.append('tspan').attr('dy', -3).text(')');

    // legend
    var L = p.legend;
    var lh = L.first + L.step * 6 + 4 - L.y;
    var lg = g.append('g');
    lg.append('rect')
        .attr('x', L.x).attr('y', L.y)
        .attr('width', L.w).attr('height', lh)
        .attr('fill', '#fff').attr('stroke', '#aaa').attr('stroke-width', 0.6);
    lg.append('text')
        .attr('x', L.x + 1.5).attr('y', L.y + 6.3)
        .attr('font-family', sansFont).attr('font-size', 5.6)
        .attr('fill', '#222')
        .text('Strain (%)');
    strains.forEach(function (s, i) {
        var ly = Math.round(L.first + i * L.step) + 0.5;
        lg.append('line')
            .attr('x1', L.x + 1.5).attr('x2', L.x + 15)
            .attr('y1', ly).attr('y2', ly)
            .attr('stroke', strainColors[i])
            .attr('stroke-width', 1.2);
        lg.append('text')
            .attr('x', L.x + 16.5)
            .attr('y', ly + 2)
            .attr('font-family', sansFont).attr('font-size', 5.6)
            .attr('fill', '#222')
            .text(s);
    });
});
</script>
</body>
</html>
